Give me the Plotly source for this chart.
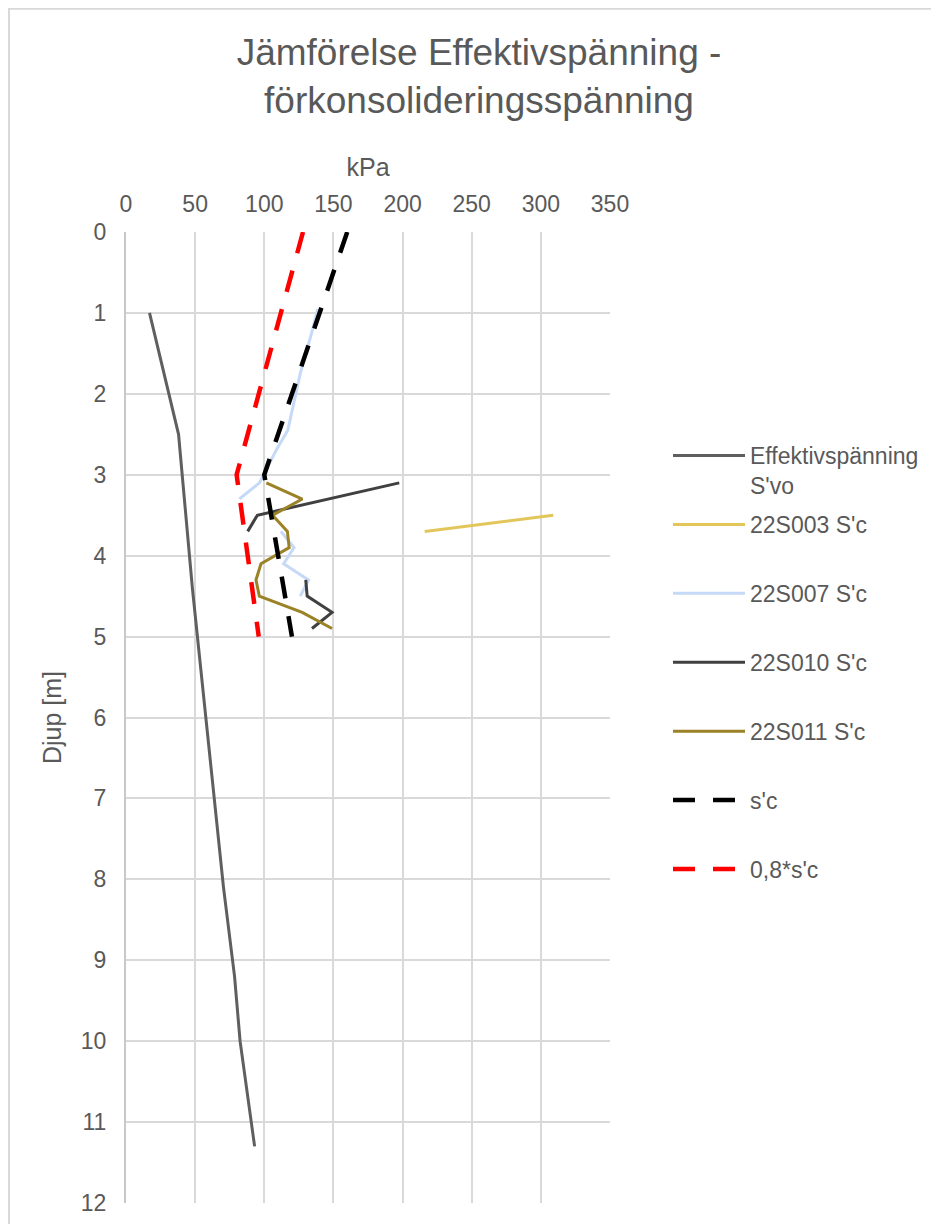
import plotly.graph_objects as go

# ---- data (kPa vs depth m) ----
eff_depth = [1.0, 2.5, 4.4, 6.3, 8.1, 9.2, 10.0, 11.3]
eff_kpa = [17, 38, 48, 59.5, 70.5, 78.5, 82.5, 93]

s003_depth = [3.5, 3.7]
s003_kpa = [309, 216]

s007_depth = [0.95, 1.2, 1.75, 2.45, 2.7, 3.1, 3.3, None, 3.7, 3.9, 4.1, 4.3, 4.5]
s007_kpa = [138.6, 135, 126, 117, 108.5, 96.5, 82, None, 112, 121.5, 114, 132, 126]

s010_depth = [3.1, 3.5, 3.7, None, 4.3, 4.5, 4.7, 4.9]
s010_kpa = [197.6, 95, 88, None, 130, 131, 149, 134.5]

s011_depth = [3.1, 3.3, 3.5, 3.7, 3.9, 4.1, 4.3, 4.5, 4.7, 4.9]
s011_kpa = [101.5, 127.5, 106, 116.7, 118, 97.6, 94, 96.4, 127.4, 149]

sc_depth = [0, 3, 5]
sc_kpa = [160, 100, 120]

sc08_depth = [0, 3, 5]
sc08_kpa = [128, 80, 96]

x_ticks = [0, 50, 100, 150, 200, 250, 300, 350]
y_ticks = list(range(0, 13))

FONT = "Arial, Liberation Sans, sans-serif"
TXT = "#595959"

W, H = 931, 1216
PL, PT, PW, PH = 126, 232, 484, 971  # plot area in page pixels


def px(xp):
    return (xp - PL) / PW


def py(yp):
    return (PT + PH - yp) / PH


fig = go.Figure()
fig.add_trace(go.Scatter(x=eff_kpa, y=eff_depth, mode="lines", name="Effektivspänning<br>S'vo",
                         line=dict(color="#5F5F5F", width=3), legend="legend", showlegend=True))
fig.add_trace(go.Scatter(x=s003_kpa, y=s003_depth, mode="lines", name="22S003 S'c",
                         line=dict(color="#E2C65A", width=3), legend="legend2", legendgroup="a"))
fig.add_trace(go.Scatter(x=s007_kpa, y=s007_depth, mode="lines", name="22S007 S'c",
                         line=dict(color="#C6D9F7", width=3), legend="legend2", legendgroup="b"))
fig.add_trace(go.Scatter(x=s010_kpa, y=s010_depth, mode="lines", name="22S010 S'c",
                         line=dict(color="#404040", width=3), legend="legend2", legendgroup="c"))
fig.add_trace(go.Scatter(x=s011_kpa, y=s011_depth, mode="lines", name="22S011 S'c",
                         line=dict(color="#9B8226", width=3), legend="legend2", legendgroup="d"))
fig.add_trace(go.Scatter(x=sc_kpa, y=sc_depth, mode="lines", name="s'c",
                         line=dict(color="#000000", width=4.5, dash="22px,18px"), legend="legend2", legendgroup="e"))
fig.add_trace(go.Scatter(x=sc08_kpa, y=sc08_depth, mode="lines", name="0,8*s'c",
                         line=dict(color="#FF0000", width=4.5, dash="22px,18px"), legend="legend2", legendgroup="f"))

fig.update_layout(
    width=W, height=H,
    showlegend=True,
    margin=dict(l=PL - 8, r=W - (PL - 8) - PW, t=PT - 8, b=H - (PT - 8) - PH, autoexpand=False),
    paper_bgcolor="white", plot_bgcolor="white",
    font=dict(family=FONT, color=TXT, size=23),
    title=dict(text="Jämförelse Effektivspänning -<br>förkonsolideringsspänning",
               x=471 / W, xanchor="center", xref="container",
               y=1 - 57 / H, yanchor="top", yref="container",
               font=dict(family=FONT, size=37, color=TXT)),
    xaxis=dict(side="top", range=[0, 350], tickvals=x_ticks, showgrid=True,
               gridcolor="#D9D9D9", gridwidth=2, zeroline=False, showline=False,
               ticks="", ticklabelstandoff=14,
               tickfont=dict(size=23, color=TXT),
               title=dict(text="kPa", font=dict(size=25, color=TXT), standoff=7)),
    yaxis=dict(range=[12, 0], tickvals=y_ticks, showgrid=True,
               gridcolor="#D9D9D9", gridwidth=2, zeroline=False,
               showline=True, linecolor="#C8C8C8", linewidth=2,
               ticks="", ticklabelstandoff=13,
               tickfont=dict(size=23, color=TXT),
               title=dict(text="Djup [m]", font=dict(size=25, color=TXT), standoff=12)),
    legend=dict(x=px(668), xanchor="left", y=py(434), yanchor="top",
                font=dict(size=23, color=TXT), itemwidth=72, valign="top",
                bgcolor="rgba(0,0,0,0)"),
    legend2=dict(x=px(668), xanchor="left", y=py(503), yanchor="top",
                 font=dict(size=23, color=TXT), itemwidth=72, tracegroupgap=36,
                 traceorder="grouped", bgcolor="rgba(0,0,0,0)"),
    shapes=[
        dict(type="line", xref="paper", yref="paper",
             x0=px(8), x1=px(945), y0=py(8.8), y1=py(8.8),
             line=dict(color="#D9D9D9", width=2)),
        dict(type="line", xref="paper", yref="paper",
             x0=px(9), x1=px(9), y0=py(8), y1=py(1230),
             line=dict(color="#D9D9D9", width=2)),
    ],
)

fig.write_html("out.html")
